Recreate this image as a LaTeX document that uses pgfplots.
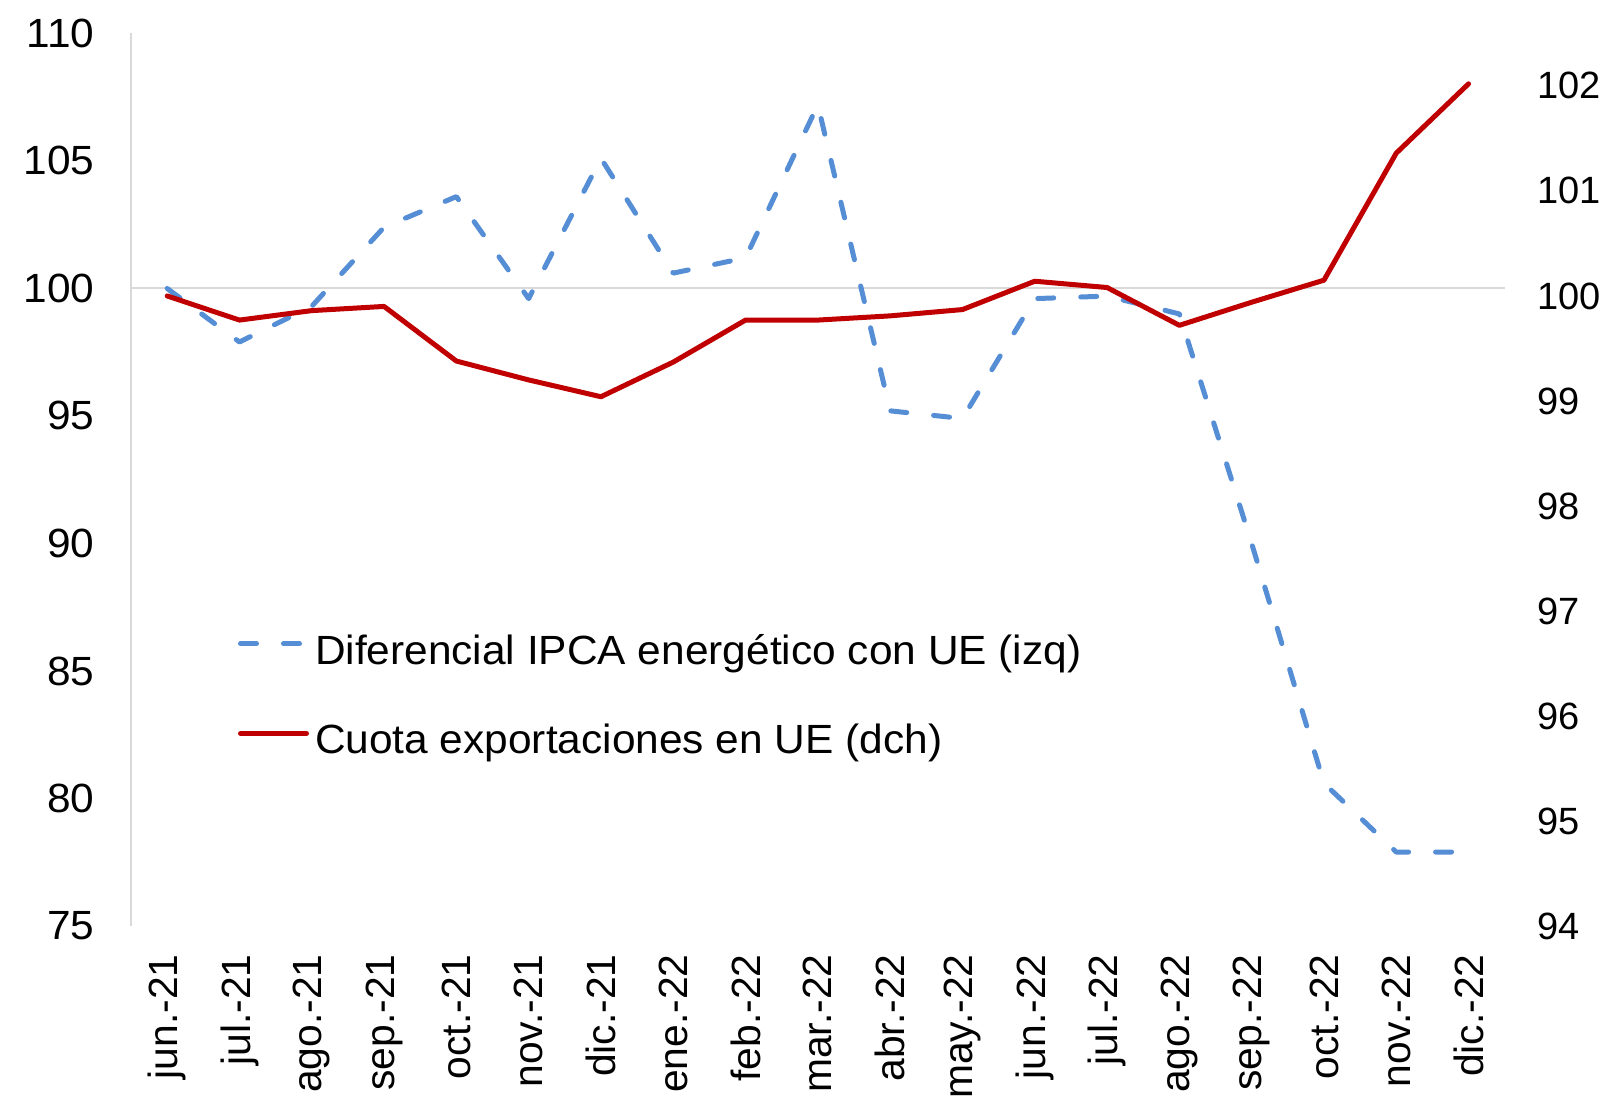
\documentclass[border=0pt]{standalone}
\usepackage{pgfplots}
\pgfplotsset{compat=1.18}
\usepackage{fontspec}
\setmainfont{Liberation Sans}[FakeStretch=1.04]
\newfontfamily\xlabfont{Liberation Sans}
\definecolor{blueline}{RGB}{85,142,213}
\definecolor{redline}{RGB}{192,0,0}
\definecolor{axisgray}{RGB}{217,217,217}
\pgfplotsset{
  mylegimg/.style={legend image code/.code={\draw[##1] (0pt,0.35em) -- (33pt,0.35em);}},
}
\begin{document}
\begin{tikzpicture}
\path[use as bounding box] (-65.5pt,-88pt) rectangle (737pt,463pt);
\pgfplotsset{
  every axis/.append style={
    scale only axis, width=686.85pt, height=446.3pt,
    xmin=-0.5, xmax=18.5,
    font=\fontsize{20.4}{24}\selectfont,
    /pgf/number format/assume math mode=true,
    tick style={draw=none},
    at={(0pt,0pt)}, anchor=south west,
  }
}
\begin{axis}[
  ymin=75, ymax=110, ytick={75,80,...,110},
  axis lines*=left,
  axis line style={-},
  x axis line style={draw=none},
  y axis line style={draw=axisgray, line width=1pt},
  extra y ticks={100}, extra y tick labels={},
  extra y tick style={grid=major, major grid style={draw=axisgray, line width=1pt}},
  xtick={0,...,18},
  xticklabels={jun.-21,jul.-21,ago.-21,sep.-21,oct.-21,nov.-21,dic.-21,ene.-22,feb.-22,mar.-22,abr.-22,may.-22,jun.-22,jul.-22,ago.-22,sep.-22,oct.-22,nov.-22,dic.-22},
  xticklabel style={rotate=90, anchor=east, inner sep=0pt, font=\xlabfont\fontsize{20.4}{24}\selectfont},
  xticklabel shift=14pt,
  yticklabel style={inner sep=0pt},
  yticklabel shift=18pt,
  mylegimg,
  legend cell align=left,
  legend style={draw=none, fill=none, inner sep=0pt, outer sep=0pt,
    at={(0.0779,0.2582)}, anchor=west, row sep=28.5pt, column sep=3pt,
    font=\fontsize{20.4}{24}\selectfont,
    nodes={inner sep=0pt}},
]
\addplot[blueline, line width=2.5pt, line cap=round, line join=round,
  dash pattern=on 8pt off 13.5pt]
coordinates {
(0,100.0) (1,97.9) (2,99.3) (3,102.4) (4,103.6) (5,99.6) (6,105.1)
(7,100.6) (8,101.2) (9,107.2) (10,95.2) (11,94.9) (12,99.6) (13,99.7)
(14,99.0) (15,90.0) (16,80.6) (17,77.9) (18,77.9)
};
\addlegendentry{Diferencial IPCA energético con UE (izq)}
\addlegendimage{redline, line width=2.5pt, line cap=round}
\addlegendentry{Cuota exportaciones en UE (dch)}
\end{axis}
\begin{axis}[
  ymin=94, ymax=102.5, ytick={94,...,102},
  axis y line*=right,
  axis x line=none,
  axis line style={draw=none},
  yticklabel style={inner sep=0pt, anchor=west, font=\xlabfont\fontsize{19}{23}\selectfont},
  yticklabel shift=16pt,
]
\addplot[redline, line width=2.5pt, line cap=round, line join=round]
coordinates {
(0,100.0) (1,99.77) (2,99.86) (3,99.90) (4,99.38) (5,99.20) (6,99.04)
(7,99.37) (8,99.77) (9,99.77) (10,99.81) (11,99.87) (12,100.14) (13,100.08)
(14,99.72) (15,99.94) (16,100.15) (17,101.36) (18,102.02)
};
\end{axis}
\end{tikzpicture}
\end{document}
